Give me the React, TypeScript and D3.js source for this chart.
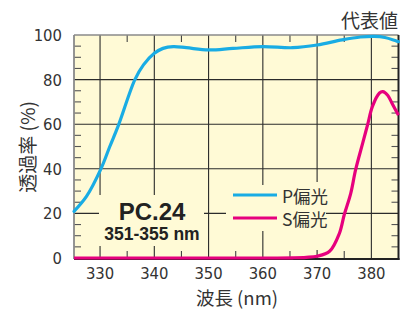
import React, { useEffect, useRef } from "react"
import * as d3 from "d3"

// P偏光 (wavelength nm, transmittance %)
const pWave = [325.2, 327.5, 330.1, 331.8, 333.4, 336.4, 338, 340, 341.6, 343.5, 345.9, 350, 354.5, 360, 365.5, 370, 374.6, 378, 380.5, 382.5, 385]
const pTrans = [20.9, 27.6, 39.6, 50, 59.6, 79.9, 86.6, 91.8, 94, 94.8, 94.3, 93.3, 94, 94.8, 94.3, 95.5, 97.8, 99.1, 99.4, 98.9, 97]

// S偏光
const sWave = [325.2, 340, 355, 365.5, 368, 370, 372.3, 374.1, 375, 376.2, 377.1, 378.4, 379.3, 380.2, 381.5, 382.1, 383, 383.8, 385]
const sTrans = [0, 0, 0, 0.1, 0.3, 0.8, 3, 11, 19.4, 29, 39.6, 51.5, 59.7, 68, 74, 74.6, 73, 69.4, 64]

const xTicks = [330, 340, 350, 360, 370, 380]
const yTicks = [0, 20, 40, 60, 80, 100]
const xMinor = [335, 345, 355, 365, 375]
const yMinor = [5, 10, 15, 25, 30, 35, 45, 50, 55, 65, 70, 75, 85, 90, 95]

const numFont = "'Liberation Sans Narrow', 'DejaVu Sans Condensed', sans-serif"
const cjkFont = "'Liberation Sans Narrow', 'Noto Sans CJK JP', sans-serif"
const boldFont = "'Liberation Sans', Arial, sans-serif"

const App: React.FC = () => {
	const ref = useRef<SVGSVGElement>(null)

	useEffect(() => {
		const svg = d3.select(ref.current)
		svg.selectAll("*").remove()

		const left = 74
		const right = 398.5
		const top = 35
		const bottom = 258
		const bg = "#fffad6"

		const x = d3.scaleLinear().domain([325.2, 385]).range([left, right])
		const y = d3.scaleLinear().domain([0, 100]).range([bottom, top])

		svg.append("rect")
			.attr("x", left)
			.attr("y", top)
			.attr("width", right - left)
			.attr("height", bottom - top)
			.attr("fill", bg)

		// grid
		svg.selectAll(".vgrid")
			.data(xTicks)
			.join("line")
			.attr("x1", (d) => x(d))
			.attr("x2", (d) => x(d))
			.attr("y1", top)
			.attr("y2", bottom)
			.attr("stroke", "#2b2b2b")
			.attr("stroke-width", 1.1)
		svg.selectAll(".hgrid")
			.data(yTicks.filter((d) => d > 0 && d < 100))
			.join("line")
			.attr("x1", left)
			.attr("x2", right)
			.attr("y1", (d) => y(d))
			.attr("y2", (d) => y(d))
			.attr("stroke", "#2b2b2b")
			.attr("stroke-width", 1.1)

		// minor ticks
		const tl = 7
		xMinor.forEach((d) => {
			svg.append("line").attr("x1", x(d)).attr("x2", x(d)).attr("y1", top).attr("y2", top + tl).attr("stroke", "#444").attr("stroke-width", 1.1)
			svg.append("line").attr("x1", x(d)).attr("x2", x(d)).attr("y1", bottom).attr("y2", bottom - tl).attr("stroke", "#444").attr("stroke-width", 1.1)
		})
		yMinor.forEach((d) => {
			svg.append("line").attr("x1", left).attr("x2", left + tl).attr("y1", y(d)).attr("y2", y(d)).attr("stroke", "#555").attr("stroke-width", 1.1)
			svg.append("line").attr("x1", right).attr("x2", right - tl).attr("y1", y(d)).attr("y2", y(d)).attr("stroke", "#555").attr("stroke-width", 1.1)
		})

		// label backgrounds
		const bgs = [
			[99, 195, 105, 51],
			[226, 185, 74, 46],
			[280, 182, 46, 68],
		]
		bgs.forEach((b) => {
			svg.append("rect").attr("x", b[0]).attr("y", b[1]).attr("width", b[2]).attr("height", b[3]).attr("fill", bg)
		})

		// frame
		svg.append("line").attr("x1", left).attr("x2", right).attr("y1", top).attr("y2", top).attr("stroke", "#8a8a8a").attr("stroke-width", 1.5)
		svg.append("line").attr("x1", left).attr("x2", left).attr("y1", top).attr("y2", bottom + 1).attr("stroke", "#8a8a8a").attr("stroke-width", 1.8)
		svg.append("line").attr("x1", right).attr("x2", right).attr("y1", top).attr("y2", bottom + 2).attr("stroke", "#222").attr("stroke-width", 2)
		svg.append("line").attr("x1", left).attr("x2", right + 1).attr("y1", bottom + 1).attr("y2", bottom + 1).attr("stroke", "#222").attr("stroke-width", 2)

		const pPts = pWave.map((w, i) => [x(w), y(pTrans[i])] as [number, number])
		const sPts = sWave.map((w, i) => [x(w), y(sTrans[i])] as [number, number])
		const path = d3.line().curve(d3.curveCatmullRom.alpha(0.5))

		svg.append("path").attr("d", path(pPts)).attr("fill", "none").attr("stroke", "#19ace4").attr("stroke-width", 3.2).attr("stroke-linecap", "round")
		svg.append("path").attr("d", path(sPts)).attr("fill", "none").attr("stroke", "#e6007e").attr("stroke-width", 3.2)

		// tick labels
		svg.selectAll(".xl")
			.data(xTicks)
			.join("text")
			.attr("x", (d) => x(d))
			.attr("y", 279)
			.attr("text-anchor", "middle")
			.attr("font-family", numFont)
			.attr("font-size", 16.5)
			.attr("fill", "#333")
			.text((d) => d)
		svg.selectAll(".yl")
			.data(yTicks)
			.join("text")
			.attr("x", 62)
			.attr("y", (d) => y(d))
			.attr("dy", "0.36em")
			.attr("text-anchor", "end")
			.attr("font-family", numFont)
			.attr("font-size", 16.5)
			.attr("fill", "#333")
			.text((d) => d)

		// titles
		svg.append("text").attr("x", 237).attr("y", 305).attr("text-anchor", "middle")
			.attr("font-family", cjkFont).attr("font-size", 18.5).attr("fill", "#333").text("波長 (nm)")
		svg.append("text").attr("transform", "translate(35,147) rotate(-90)").attr("text-anchor", "middle")
			.attr("font-family", cjkFont).attr("font-size", 19).attr("fill", "#333").text("透過率 (%)")
		svg.append("text").attr("x", 398).attr("y", 28).attr("text-anchor", "end")
			.attr("font-family", cjkFont).attr("font-size", 19).attr("fill", "#333").text("代表値")

		svg.append("text").attr("x", 152).attr("y", 220).attr("text-anchor", "middle")
			.attr("font-family", boldFont).attr("font-weight", "bold").attr("font-size", 24).attr("fill", "#222").text("PC.24")
		svg.append("text").attr("x", 152).attr("y", 240).attr("text-anchor", "middle")
			.attr("font-family", boldFont).attr("font-weight", "bold").attr("font-size", 17.5).attr("fill", "#222").text("351-355 nm")

		// legend
		const legend = [
			{ label: "P偏光", color: "#19ace4", yy: 195 },
			{ label: "S偏光", color: "#e6007e", yy: 218 },
		]
		legend.forEach((l) => {
			svg.append("line").attr("x1", 233).attr("x2", 277).attr("y1", l.yy).attr("y2", l.yy).attr("stroke", l.color).attr("stroke-width", 3)
			svg.append("text").attr("x", 282).attr("y", l.yy + 7.5)
				.attr("font-family", cjkFont).attr("font-size", 17.5).attr("fill", "#333").text(l.label)
		})
	}, [])

	return (
		<svg
			ref={ref}
			width={409}
			height={312}
			style={{ position: "absolute", left: 0, top: 0, background: "#fff" }}
		/>
	)
}

export default App
